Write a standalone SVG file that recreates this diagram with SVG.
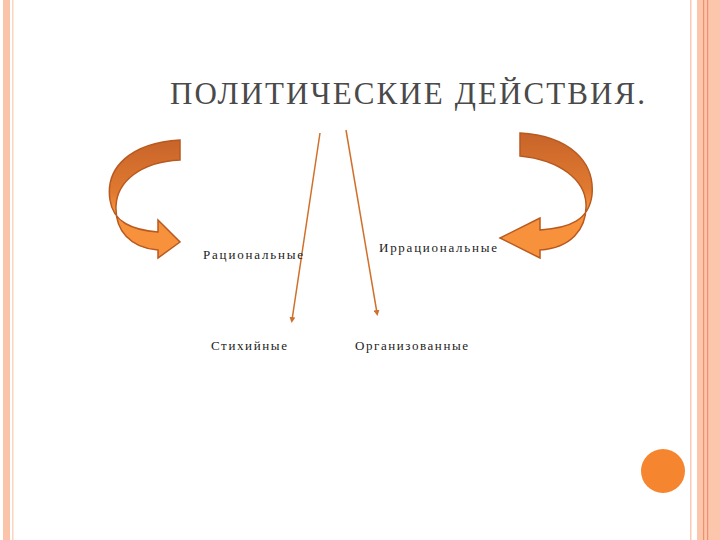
<svg xmlns="http://www.w3.org/2000/svg" width="720" height="540" viewBox="0 0 720 540">
<style>
.t{font-family:"Liberation Serif",serif;fill:#222;font-size:13px}
.ln{stroke:#d0702a;stroke-width:1.5;fill:none}
.cv{stroke:#b85a20;stroke-width:1.5}
</style>
<defs>
<linearGradient id="g" x1="0" y1="0" x2="0" y2="1">
<stop offset="0" stop-color="#c8642a"/><stop offset="0.45" stop-color="#e07a30"/><stop offset="0.6" stop-color="#f7913c"/><stop offset="1" stop-color="#f7913c"/>
</linearGradient>
<marker id="a" viewBox="0 0 10 10" refX="5" refY="5" markerWidth="4" markerHeight="4" orient="auto"><path d="M0,0L10,5L0,10z" fill="#d0702a"/></marker>
</defs>
<rect width="720" height="540" fill="#fff"/>
<rect x="3" y="0" width="7" height="540" fill="#fbc3aa"/>
<rect x="12" y="0" width="1.5" height="540" fill="#fbd3c0"/>
<rect x="690" y="0" width="1.5" height="540" fill="#f9c9b4"/>
<rect x="697" y="0" width="23" height="540" fill="#fcc6ad"/>
<rect x="703" y="0" width="1.2" height="540" fill="#f0906a"/>
<rect x="707" y="0" width="1.2" height="540" fill="#f0906a"/>
<circle cx="663" cy="471" r="22" fill="#f5852f"/>
<text class="t" x="170" y="104" textLength="475" lengthAdjust="spacing" style="font-size:31px;fill:#4a4a4a">ПОЛИТИЧЕСКИЕ ДЕЙСТВИЯ.</text>
<g id="arrowL"><path class="cv" fill="url(#g)" d="M180,140 C130,143 105,168 110,200 C113,222 132,230 158,232 L158,220 L180,242 L158,258 L158,250 C130,248 115,230 116,206 C117,182 140,162 180,160 Z"/></g>
<g id="arrowR"><path class="cv" fill="url(#g)" d="M520,133 C570,136 595,162 592,195 C589,220 570,228 540,230 L540,218 L500,238 L540,258 L540,250 C570,248 587,230 586,204 C585,180 560,160 520,156 Z"/></g>
<g id="connectors">
<line class="ln" x1="320" y1="133" x2="292" y2="320" marker-end="url(#a)"/>
<line class="ln" x1="346" y1="130" x2="377" y2="313" marker-end="url(#a)"/>
</g>
<g id="n1"><text class="t" x="203" y="259" textLength="100" lengthAdjust="spacing">Рациональные</text></g>
<g id="n2"><text class="t" x="379" y="252" textLength="118" lengthAdjust="spacing">Иррациональные</text></g>
<g id="n3"><text class="t" x="211" y="350" textLength="76" lengthAdjust="spacing">Стихийные</text></g>
<g id="n4"><text class="t" x="355" y="350" textLength="113" lengthAdjust="spacing">Организованные</text></g>
</svg>
